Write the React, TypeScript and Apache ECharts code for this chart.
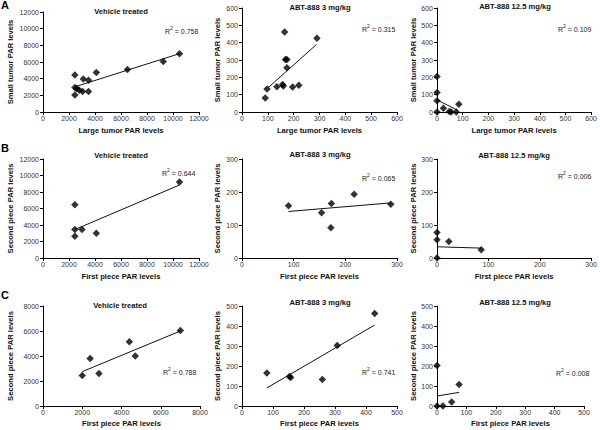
import React, { useEffect, useRef } from "react";
import * as echarts from "echarts";

const FONT = "'Liberation Sans', Arial, Helvetica, sans-serif";

// Panel titles and labels
const panelTitles = [
  "Vehicle treated", "ABT-888 3 mg/kg", "ABT-888 12.5 mg/kg",
  "Vehicle treated", "ABT-888 3 mg/kg", "ABT-888 12.5 mg/kg",
  "Vehicle treated", "ABT-888 3 mg/kg", "ABT-888 12.5 mg/kg",
];
const xNames = [
  "Large tumor PAR levels", "Large tumor PAR levels", "Large tumor PAR levels",
  "First piece PAR levels", "First piece PAR levels", "First piece PAR levels",
  "First piece PAR levels", "First piece PAR levels", "First piece PAR levels",
];
const yNames = [
  "Small tumor PAR levels", "Small tumor PAR levels", "Small tumor PAR levels",
  "Second piece PAR levels", "Second piece PAR levels", "Second piece PAR levels",
  "Second piece PAR levels", "Second piece PAR levels", "Second piece PAR levels",
];
const rSquared = ["0.758", "0.315", "0.109", "0.644", "0.065", "0.006", "0.788", "0.741", "0.008"];
const rowLetters = ["A", "B", "C"];

// Axis ranges: [max, interval] (min is 0)
const xMax = [12000, 600, 600, 12000, 300, 300, 8000, 500, 500];
const xStep = [2000, 100, 100, 2000, 100, 100, 2000, 100, 100];
const yMax = [12000, 600, 600, 12000, 300, 300, 8000, 500, 500];
const yStep = [2000, 100, 100, 2000, 100, 100, 2000, 100, 100];

// Data
const a1X = [2450, 2450, 2450, 2600, 2800, 3050, 3100, 3500, 3500, 4100, 6500, 9250, 10500];
const a1Y = [4450, 2950, 2050, 2800, 2600, 2450, 3950, 3800, 2450, 4750, 5100, 6050, 7000];
const a1Fit = [[2450, 3020], [10500, 7000]];

const a2X = [90, 97, 135, 157, 160, 165, 168, 174, 174, 196, 220, 290];
const a2Y = [81, 133, 145, 158, 150, 462, 303, 303, 256, 144, 155, 425];
const a2Fit = [[100, 139], [288, 389]];

const a3X = [0, 0, 0, 0, 25, 48, 55, 75, 85];
const a3Y = [205, 112, 65, 0, 22, 3, 0, 0, 45];
const a3Fit = [[0, 70], [80, 10]];

const b1X = [2450, 2450, 2450, 3000, 4100, 10500];
const b1Y = [6450, 3450, 2650, 3450, 3000, 9200];
const b1Fit = [[2450, 3450], [10500, 8850]];

const b2X = [90, 154, 173, 172, 217, 288];
const b2Y = [158, 137, 165, 92, 193, 163];
const b2Fit = [[90, 141], [288, 167]];

const b3X = [0, 0, 0, 23, 86];
const b3Y = [77, 55, 0, 50, 25];
const b3Fit = [[0, 34], [86, 30]];

const c1X = [2000, 2400, 2850, 4400, 4700, 7000];
const c1Y = [2450, 3800, 2600, 5150, 4000, 6050];
const c1Fit = [[2000, 2750], [7000, 6000]];

const c2X = [80, 153, 157, 259, 307, 428];
const c2Y = [165, 148, 143, 133, 303, 462];
const c2Fit = [[80, 90], [428, 405]];

const c3X = [0, 0, 20, 50, 75];
const c3Y = [203, 0, 0, 20, 108];
const c3Fit = [[0, 50], [75, 68]];

const allX = [a1X, a2X, a3X, b1X, b2X, b3X, c1X, c2X, c3X];
const allY = [a1Y, a2Y, a3Y, b1Y, b2Y, b3Y, c1Y, c2Y, c3Y];
const allFit = [a1Fit, a2Fit, a3Fit, b1Fit, b2Fit, b3Fit, c1Fit, c2Fit, c3Fit];

// Layout
const grids = [
  { left: 43, top: 12, width: 156, height: 100 },
  { left: 242, top: 8, width: 155, height: 104 },
  { left: 437, top: 8, width: 156, height: 104 },
  { left: 43, top: 159, width: 156, height: 99 },
  { left: 242, top: 159, width: 155, height: 99 },
  { left: 437, top: 159, width: 156, height: 99 },
  { left: 43, top: 306, width: 157, height: 100 },
  { left: 242, top: 306, width: 155, height: 100 },
  { left: 437, top: 306, width: 147, height: 100 },
];
const yNameGaps = [29, 21, 20, 29, 21, 20, 29, 21, 20];
const xNameGaps = [14, 14, 14, 14, 14, 14, 13, 13, 13];
const titlePos = [
  [121, 11], [320, 7], [515, 6],
  [121, 155], [320, 154], [514, 155],
  [120, 305], [320, 302], [515, 302],
];
const rPos = [
  [165, 30], [362, 28], [558, 28],
  [162, 172], [362, 177], [558, 175],
  [163, 371], [362, 371], [556, 372],
];
const letterPos = [[5, 5], [5, 148], [5, 295]];

export default function App() {
  const ref = useRef<HTMLDivElement>(null);
  useEffect(() => {
    if (!ref.current) return;
    const chart = echarts.init(ref.current, null, { renderer: "svg" });
    const axisCommon = {
      type: "value",
      min: 0,
      axisLine: { show: true, onZero: false, lineStyle: { color: "#000", width: 1 } },
      axisTick: { show: true, length: 3, lineStyle: { color: "#000", width: 1 } },
      splitLine: { show: false },
      nameLocation: "middle",
      nameTextStyle: { fontFamily: FONT, fontWeight: "bold", fontSize: 7.6, color: "#111" },
    };
    const fmt = (v: number) => String(v);
    const xAxis = grids.map((_, i) => ({
      ...axisCommon,
      gridIndex: i,
      max: xMax[i],
      interval: xStep[i],
      name: xNames[i],
      nameGap: xNameGaps[i],
      axisLabel: { fontFamily: FONT, fontSize: 7, color: "#333", margin: 3, formatter: fmt },
    }));
    const yAxis = grids.map((_, i) => ({
      ...axisCommon,
      gridIndex: i,
      max: yMax[i],
      interval: yStep[i],
      name: yNames[i],
      nameGap: yNameGaps[i],
      axisLabel: { fontFamily: FONT, fontSize: 7, color: "#333", margin: 4, formatter: fmt },
    }));
    const series: any[] = [];
    grids.forEach((_, i) => {
      series.push({
        type: "line",
        xAxisIndex: i,
        yAxisIndex: i,
        data: allFit[i],
        symbol: "none",
        lineStyle: { color: "#111", width: 1 },
        z: 1,
      });
      series.push({
        type: "scatter",
        xAxisIndex: i,
        yAxisIndex: i,
        data: allX[i].map((x, k) => [x, allY[i][k]]),
        symbol: "diamond",
        symbolSize: 7.5,
        itemStyle: { color: "#000" },
        z: 2,
      });
    });
    const graphic: any[] = [];
    panelTitles.forEach((t, i) => {
      graphic.push({
        type: "text",
        x: titlePos[i][0],
        y: titlePos[i][1],
        style: {
          text: t,
          font: `bold 7.6px ${FONT}`,
          fill: "#111",
          textAlign: "center",
          textVerticalAlign: "middle",
        },
      });
      graphic.push({
        type: "text",
        x: rPos[i][0],
        y: rPos[i][1],
        style: {
          text: `{r|R}{s|2}{r| = ${rSquared[i]}}`,
          rich: {
            r: { fontFamily: FONT, fontSize: 7, fill: "#222", lineHeight: 9, verticalAlign: "bottom" },
            s: { fontFamily: FONT, fontSize: 5, fill: "#222", lineHeight: 9, verticalAlign: "top" },
          },
          fill: "#222",
          textAlign: "left",
          textVerticalAlign: "middle",
        },
      });
    });
    rowLetters.forEach((l, i) => {
      graphic.push({
        type: "text",
        x: letterPos[i][0],
        y: letterPos[i][1],
        style: {
          text: l,
          font: `bold 11px ${FONT}`,
          fill: "#000",
          textAlign: "center",
          textVerticalAlign: "middle",
        },
      });
    });
    chart.setOption({
      animation: false,
      backgroundColor: "#fff",
      grid: grids.map((g) => ({ ...g, containLabel: false })),
      xAxis,
      yAxis,
      series,
      graphic,
    });
    return () => chart.dispose();
  }, []);
  return (
    <div
      ref={ref}
      style={{ position: "absolute", left: 0, top: 0, width: 600, height: 430 }}
    />
  );
}
